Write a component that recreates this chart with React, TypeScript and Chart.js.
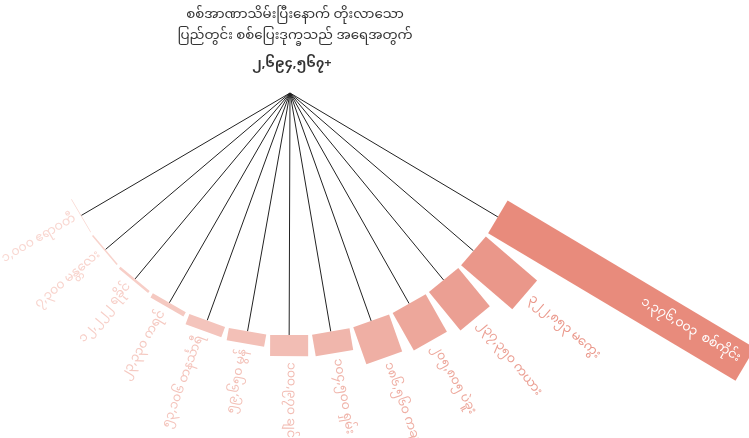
import React, { useEffect, useRef } from 'react';
import { Chart, registerables } from 'chart.js';

Chart.register(...registerables);

// ---------- data ----------
const regions = [
  'ဧရာဝတီ',
  'မန္တလေး',
  'ရခိုင်',
  'ကရင်',
  'တနင်္သာရီ',
  'မွန်',
  'ချင်း',
  'ရှမ်း',
  'ကချင်',
  'ပဲခူး',
  'ကယား',
  'မကွေး',
  'စစ်ကိုင်း',
];
const displaced = [1000, 7300, 12222, 23330, 53106, 59650, 100970, 104500, 186560, 205805, 237350, 322853, 1376003];
const barColors = [
  '#f9d7d1', '#f8d3cc', '#f7cec7', '#f5c9c1', '#f4c4bc', '#f3c0b7', '#f2bdb4',
  '#f0b6ac', '#efafa4', '#eda79b', '#eb9f93', '#ea978a', '#e88b7c',
];
const titleLines = ['စစ်အာဏာသိမ်းပြီးနောက် တိုးလာသော', 'ပြည်တွင်း စစ်ပြေးဒုက္ခသည် အရေအတွက်'];
const totalLabel = '၂,၆၉၄,၅၆၇+';

// ---------- layout ----------
const W = 749;
const H = 438;
const CX = 290; // fan centre in pixels
const CY = 93;
const START_DEG = 149.6;
const STEP_DEG = -9.9;
const INNER_R = 242;
const BAR_W = 38;
const LEN_PER_UNIT = 288 / 1376003;
const FONT = "'Noto Sans Myanmar', 'Padauk', 'Myanmar Text', 'Noto Sans', sans-serif";

const burmeseDigits = '၀၁၂၃၄၅၆၇၈၉';
const toBurmese = (n: number) =>
  n.toLocaleString('en-US').replace(/[0-9]/g, (d) => burmeseDigits[Number(d)]);

const degOf = (i: number) => START_DEG + STEP_DEG * i;
const angleOf = (i: number) => (degOf(i) * Math.PI) / 180;
const outerR = (i: number) => INNER_R + Math.max(displaced[i] * LEN_PER_UNIT, 0.6);

// data space: y up, 1 unit = 1 px, origin at fan centre
const pt = (r: number, th: number, t = 0) => ({
  x: r * Math.cos(th) + t * Math.sin(th),
  y: -r * Math.sin(th) + t * Math.cos(th),
});

const labelPlugin = {
  id: 'fanLabels',
  afterDatasetsDraw(chart: any) {
    const { ctx, scales } = chart;
    const px = (p: { x: number; y: number }) => [scales.x.getPixelForValue(p.x), scales.y.getPixelForValue(p.y)];
    ctx.save();
    // title
    const [tx] = px({ x: 0, y: 0 });
    ctx.fillStyle = '#333';
    ctx.textAlign = 'center';
    ctx.textBaseline = 'middle';
    ctx.font = `13.4px ${FONT}`;
    ctx.fillText(titleLines[0], tx + 5, 17);
    ctx.fillText(titleLines[1], tx + 5, 38);
    ctx.font = `bold 12.8px ${FONT}`;
    ctx.fillText(totalLabel, tx + 2, 66);

    regions.forEach((name, i) => {
      const th = angleOf(i);
      const deg = degOf(i);
      const last = i === regions.length - 1;
      const r = last ? outerR(i) - 8 : outerR(i) + 6;
      const [x, y] = px(pt(r, th));
      const text = `${toBurmese(displaced[i])}${last ? '  ' : ' '}${name}`;
      ctx.save();
      ctx.translate(x, y);
      ctx.font = `12.5px ${FONT}`;
      ctx.textBaseline = 'middle';
      // canvas angle (clockwise from +x) equals deg because y is down in pixels
      if (deg > 90.5) {
        ctx.rotate(((deg - 180) * Math.PI) / 180);
        ctx.textAlign = 'right';
      } else {
        ctx.rotate((deg * Math.PI) / 180);
        ctx.textAlign = last ? 'right' : 'left';
      }
      ctx.fillStyle = last ? '#ffffff' : barColors[i];
      ctx.fillText(text, 0, 0);
      ctx.restore();
    });
    ctx.restore();
  },
};

export default function App() {
  const ref = useRef<HTMLCanvasElement>(null);
  useEffect(() => {
    if (!ref.current) return;
    const connectors = regions.map((_, i) => {
      const th = angleOf(i);
      return {
        data: [pt(0, th), pt(INNER_R, th)],
        showLine: true,
        borderColor: '#222',
        borderWidth: 1,
        pointRadius: 0,
        fill: false,
        order: 2,
      };
    });
    const bars = regions.map((_, i) => {
      const th = angleOf(i);
      const r1 = INNER_R;
      const r2 = outerR(i);
      const h = BAR_W / 2;
      return {
        data: [pt(r1, th, -h), pt(r2, th, -h), pt(r2, th, h), pt(r1, th, h), pt(r1, th, -h)],
        showLine: true,
        borderColor: 'rgba(0,0,0,0)',
        borderWidth: 0,
        backgroundColor: barColors[i],
        pointRadius: 0,
        fill: 'shape',
        order: 1,
      };
    });
    const chart = new Chart(ref.current, {
      type: 'scatter',
      data: { datasets: [...connectors, ...bars] as any },
      options: {
        animation: false,
        responsive: false,
        maintainAspectRatio: false,
        events: [],
        layout: { padding: 0 },
        plugins: { legend: { display: false }, tooltip: { enabled: false }, title: { display: false } },
        scales: {
          x: { type: 'linear', display: false, min: -CX, max: W - CX },
          y: { type: 'linear', display: false, min: -(H - CY), max: CY },
        },
      },
      plugins: [labelPlugin],
    });
    return () => chart.destroy();
  }, []);
  return (
    <div style={{ position: 'fixed', left: 0, top: 0, width: W, height: H, background: '#fff' }}>
      <canvas ref={ref} width={W} height={H} style={{ display: 'block', width: W, height: H }} />
    </div>
  );
}
